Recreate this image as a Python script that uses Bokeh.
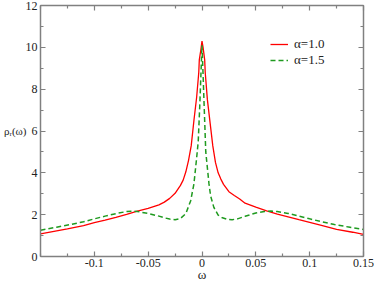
from bokeh.plotting import figure
from bokeh.models import (LinearAxis, FixedTicker, SingleIntervalTicker,
                          Legend, LegendItem, CustomJSTickFormatter)
from bokeh.embed import file_html
from bokeh.resources import INLINE

# ---------------- data ----------------
w_a10 = [-0.15, -0.14, -0.125, -0.11, -0.1, -0.09, -0.08, -0.07, -0.06, -0.05,
         -0.04, -0.035, -0.03, -0.025, -0.02, -0.0175, -0.015, -0.0125, -0.01,
         -0.0075, -0.005, -0.003, -0.0025, -0.001, 0.0,
         0.001, 0.0025, 0.003, 0.005, 0.0075, 0.01, 0.0125, 0.015, 0.0175,
         0.02, 0.025, 0.03, 0.035, 0.04, 0.05, 0.06, 0.07, 0.08, 0.09, 0.1,
         0.11, 0.125, 0.14, 0.15]
rho_a10 = [1.08, 1.18, 1.32, 1.48, 1.62, 1.74, 1.87, 2.01, 2.17, 2.3,
           2.47, 2.6, 2.78, 3.02, 3.4, 3.65, 4.05, 4.6, 5.3,
           6.5, 7.6, 8.8, 9.4, 9.9, 10.3,
           10.0, 9.4, 8.8, 7.5, 6.4, 5.3, 4.5, 4.0, 3.7,
           3.45, 3.1, 2.92, 2.75, 2.55, 2.36, 2.18, 2.03, 1.9, 1.76, 1.63,
           1.5, 1.3, 1.16, 1.06]

w_a15 = [-0.15, -0.135, -0.123, -0.11, -0.1, -0.09, -0.08, -0.07, -0.065, -0.06,
         -0.05, -0.04, -0.035, -0.03, -0.025, -0.02, -0.015, -0.0105, -0.0075,
         -0.005, -0.0035, -0.002, -0.001, 0.0,
         0.001, 0.002, 0.0035, 0.0065, 0.008, 0.011, 0.015, 0.019, 0.024,
         0.028, 0.033, 0.04, 0.05, 0.058, 0.064, 0.07, 0.08, 0.09, 0.1,
         0.11, 0.123, 0.135, 0.15]
rho_a15 = [1.26, 1.4, 1.52, 1.66, 1.8, 1.93, 2.05, 2.15, 2.17, 2.15,
           2.06, 1.93, 1.85, 1.79, 1.76, 1.82, 2.05, 2.67, 3.47,
           4.7, 5.5, 7.3, 8.7, 10.1,
           8.7, 7.2, 5.0, 3.47, 2.9, 2.35, 1.98, 1.85, 1.77,
           1.76, 1.8, 1.92, 2.08, 2.15, 2.17, 2.15, 2.06, 1.93, 1.8,
           1.68, 1.53, 1.42, 1.29]

series_labels = ["\u03b1=1.0", "\u03b1=1.5"]

x_major = [-0.1, -0.05, 0.0, 0.05, 0.1, 0.15]
x_major_labels = ["-0.1", "-0.05", "0", "0.05", "0.1", "0.15"]
x_minor = [-0.15, -0.125, -0.075, -0.025, 0.025, 0.075, 0.125]
x_title = "\u03c9"
y_title = "\u03c1\u1d63(\u03c9)"

# ---------------- figure ----------------
FONT = "Liberation Serif"
AX = "#808080"
TXT = "#222222"

p = figure(width=374, height=284, x_range=(-0.15, 0.15), y_range=(0, 12),
           output_backend="svg", toolbar_location=None,
           min_border_left=40, min_border_right=11, min_border_top=5,
           min_border_bottom=28)
p.xgrid.visible = False
p.ygrid.visible = False
p.outline_line_color = AX
p.background_fill_color = "white"
p.border_fill_color = "white"

xt = FixedTicker(ticks=x_major, minor_ticks=x_minor)
yt = SingleIntervalTicker(interval=2, num_minor_ticks=2)
xa = p.below[0]
ya = p.left[0]
xa.ticker = xt
ya.ticker = yt
xa.major_label_overrides = {t: s for t, s in zip(x_major, x_major_labels)}

top_ax = LinearAxis(ticker=xt)
right_ax = LinearAxis(ticker=yt)
p.add_layout(top_ax, "above")
p.add_layout(right_ax, "right")

blank = CustomJSTickFormatter(code="return ''")
for ax in (top_ax, right_ax):
    ax.formatter = blank
    ax.major_label_text_font_size = "0px"
    ax.major_label_standoff = 0

for ax in (xa, ya, top_ax, right_ax):
    ax.axis_line_color = AX
    ax.axis_line_width = 1.5
    ax.major_tick_line_color = AX
    ax.minor_tick_line_color = AX
    ax.major_tick_line_width = 1.2
    ax.minor_tick_line_width = 1.2
    ax.major_tick_in = 5
    ax.major_tick_out = 0
    ax.minor_tick_in = 3
    ax.minor_tick_out = 0
    ax.major_label_text_font = FONT
    ax.major_label_text_color = TXT

for ax in (xa, ya):
    ax.major_label_text_font_size = "12px"
    ax.axis_label_text_font = FONT
    ax.axis_label_text_font_style = "normal"
    ax.axis_label_text_color = TXT

xa.major_label_standoff = 2
xa.axis_label = x_title
xa.axis_label_text_font_size = "13px"
xa.axis_label_standoff = -3

ya.major_label_standoff = 3
ya.axis_label = y_title
ya.axis_label_text_font_size = "11px"
ya.axis_label_standoff = -4
try:
    ya.axis_label_orientation = "horizontal"
except Exception:
    pass

r1 = p.line(w_a10, rho_a10, line_color="#ff0000", line_width=1.3)
r2 = p.line(w_a15, rho_a15, line_color="#1f9a1f", line_width=1.5,
            line_dash="5 3")

legend = Legend(items=[LegendItem(label=series_labels[0], renderers=[r1]),
                       LegendItem(label=series_labels[1], renderers=[r2])],
                location=(230, 188), orientation="vertical",
                glyph_width=18, glyph_height=12, label_height=12,
                label_standoff=6, spacing=-4, padding=0, margin=0,
                border_line_color=None, background_fill_alpha=0,
                label_text_font=FONT, label_text_font_size="13px",
                label_text_color=TXT)
p.add_layout(legend)

open("out.html", "w").write(file_html(p, INLINE))
